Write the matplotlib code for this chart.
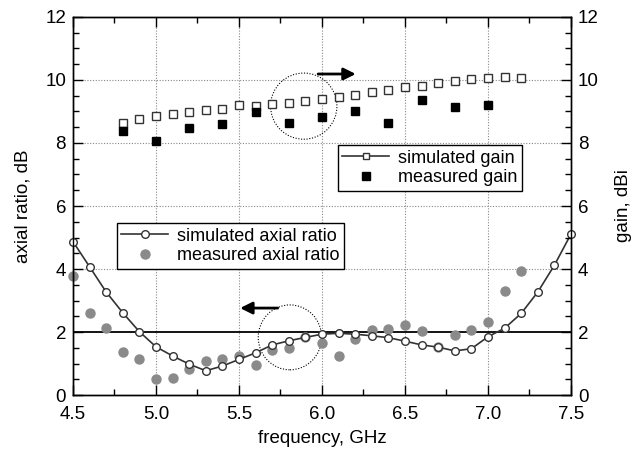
import matplotlib
matplotlib.use('Agg')
import matplotlib.pyplot as plt
import matplotlib.lines as mlines
from matplotlib.patches import Ellipse
from matplotlib.ticker import MultipleLocator

plt.rcParams['font.family'] = ['Liberation Sans', 'DejaVu Sans']

# axial ratio data (dB)
freq_ar = [4.5, 4.6, 4.7, 4.8, 4.9, 5.0, 5.1, 5.2, 5.3, 5.4, 5.5, 5.6, 5.7, 5.8, 5.9, 6.0,
           6.1, 6.2, 6.3, 6.4, 6.5, 6.6, 6.7, 6.8, 6.9, 7.0, 7.1, 7.2, 7.3, 7.4, 7.5]
sim_ar = [4.87, 4.07, 3.27, 2.61, 2.01, 1.53, 1.24, 0.98, 0.77, 0.92, 1.13, 1.34, 1.59, 1.72, 1.83, 1.93,
          1.96, 1.93, 1.88, 1.82, 1.71, 1.59, 1.52, 1.40, 1.47, 1.85, 2.12, 2.59, 3.27, 4.12, 5.11]
freq_ar_meas = [4.5, 4.6, 4.7, 4.8, 4.9, 5.0, 5.1, 5.2, 5.3, 5.4, 5.5, 5.6, 5.7, 5.8, 5.9, 6.0,
                6.1, 6.2, 6.3, 6.4, 6.5, 6.6, 6.7, 6.8, 6.9, 7.0, 7.1, 7.2]
meas_ar = [3.78, 2.59, 2.14, 1.35, 1.14, 0.52, 0.54, 0.81, 1.07, 1.14, 1.24, 0.96, 1.43, 1.50, 1.85, 1.64,
           1.24, 1.77, 2.06, 2.10, 2.21, 2.03, 1.52, 1.90, 2.05, 2.33, 3.30, 3.94]

# gain data (dBi)
freq_gain = [4.8, 4.9, 5.0, 5.1, 5.2, 5.3, 5.4, 5.5, 5.6, 5.7, 5.8, 5.9, 6.0, 6.1, 6.2,
             6.3, 6.4, 6.5, 6.6, 6.7, 6.8, 6.9, 7.0, 7.1, 7.2]
sim_gain = [8.64, 8.75, 8.86, 8.92, 8.98, 9.05, 9.09, 9.20, 9.18, 9.23, 9.28, 9.33, 9.39, 9.47, 9.52,
            9.61, 9.68, 9.77, 9.82, 9.92, 9.98, 10.03, 10.07, 10.10, 10.07]
freq_gain_meas = [4.8, 5.0, 5.2, 5.4, 5.6, 5.8, 6.0, 6.2, 6.4, 6.6, 6.8, 7.0]
meas_gain = [8.39, 8.07, 8.49, 8.60, 8.98, 8.64, 8.82, 9.02, 8.64, 9.37, 9.15, 9.21]

LINE = '#333333'
GREY = '#8a8a8a'
FS = 13.5
LEG_FS = 13

fig = plt.figure(figsize=(6.42, 4.53), dpi=100)
ax = fig.add_axes([0.1137, 0.128, 0.7757, 0.8345])
ax2 = ax.twinx()

# grid + 2 dB reference line
for x in [5.0, 5.5, 6.0, 6.5, 7.0]:
    ax.axvline(x, color='#888888', ls=(0, (1, 1.5)), lw=0.8, zorder=0)
for y in [4, 6, 8, 10]:
    ax.axhline(y, color='#888888', ls=(0, (1, 1.5)), lw=0.8, zorder=0)
ax.axhline(2, color='black', lw=1.3, zorder=1)

# axial ratio
ax.plot(freq_ar_meas, meas_ar, 'o', color=GREY, ms=6.5, mec=GREY, zorder=2, clip_on=False,
        label='measured axial ratio')
ax.plot(freq_ar, sim_ar, '-o', color=LINE, lw=1.2, ms=5.5, mfc='white', mec=LINE, mew=1,
        zorder=3, clip_on=False, label='simulated axial ratio')

# gain
ax2.plot(freq_gain, sim_gain, 's', color=LINE, ms=5.5, mfc='white', mec=LINE, mew=1, zorder=3)
ax2.plot(freq_gain_meas, meas_gain, 's', color='black', ms=6, zorder=3)

# dotted circles and arrows
ax.add_patch(Ellipse((5.89, 9.17), 0.4, 2.1, fill=False, ls=(0, (1, 1.5)), lw=0.8, color='black'))
ax.add_patch(Ellipse((5.807, 1.83), 0.382, 2.06, fill=False, ls=(0, (1, 1.5)), lw=0.8, color='black'))
ax.annotate('', xy=(6.22, 10.19), xytext=(5.96, 10.19),
            arrowprops=dict(arrowstyle='-|>', lw=2, color='black', mutation_scale=18))
ax.annotate('', xy=(5.49, 2.76), xytext=(5.75, 2.76),
            arrowprops=dict(arrowstyle='-|>', lw=2, color='black', mutation_scale=18))

for a in (ax, ax2):
    a.set_xlim(4.5, 7.5)
    a.set_ylim(0, 12)
    a.yaxis.set_major_locator(MultipleLocator(2))
    a.yaxis.set_minor_locator(MultipleLocator(0.5))
    a.tick_params(which='both', direction='in', labelsize=FS, width=1)
    a.tick_params(which='major', length=7, pad=5)
    a.tick_params(which='minor', length=4)
    for s in a.spines.values():
        s.set_linewidth(1)

ax.xaxis.set_major_locator(MultipleLocator(0.5))
ax.xaxis.set_minor_locator(MultipleLocator(0.25))
ax.xaxis.set_major_formatter(matplotlib.ticker.FormatStrFormatter('%.1f'))
ax.tick_params(axis='x', which='both', top=True)
ax.tick_params(axis='x', which='major', pad=8)

ax.set_xlabel('frequency, GHz', fontsize=FS, labelpad=5)
ax.set_ylabel('axial ratio, dB', fontsize=FS, labelpad=10)
ax2.set_ylabel('gain, dBi', fontsize=FS, labelpad=12)

# legends
h_sim_ar = mlines.Line2D([], [], color=LINE, lw=1.2, marker='o', ms=5.5, mfc='white', mec=LINE)
h_meas_ar = mlines.Line2D([], [], color=GREY, ls='none', marker='o', ms=6.5)
leg1 = ax.legend([h_sim_ar, h_meas_ar], ['simulated axial ratio', 'measured axial ratio'],
                 loc='upper left', bbox_to_anchor=(0.088, 0.455), fontsize=LEG_FS, frameon=True,
                 fancybox=False, edgecolor='black', framealpha=1, borderpad=0.25, labelspacing=0.15,
                 handlelength=2.6, handletextpad=0.5, borderaxespad=0)
leg1.get_frame().set_linewidth(1)

h_sim_g = mlines.Line2D([], [], color=LINE, lw=1.2, marker='s', ms=5, mfc='white', mec=LINE)
h_meas_g = mlines.Line2D([], [], color='black', ls='none', marker='s', ms=6)
leg2 = ax2.legend([h_sim_g, h_meas_g], ['simulated gain', 'measured gain'],
                  loc='upper left', bbox_to_anchor=(0.532, 0.661), fontsize=LEG_FS, frameon=True,
                  fancybox=False, edgecolor='black', framealpha=1, borderpad=0.25, labelspacing=0.15,
                  handlelength=2.6, handletextpad=0.5, borderaxespad=0)
leg2.get_frame().set_linewidth(1)

fig.savefig('out.png', dpi=100)
